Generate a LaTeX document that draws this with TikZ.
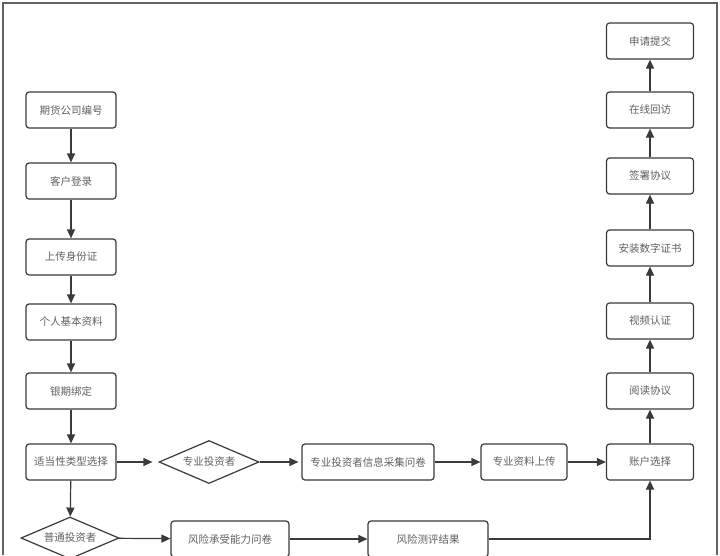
\documentclass[tikz,border=0pt]{standalone}
\usepackage{fontspec}
\newfontfamily\cjk{Noto Sans CJK SC}
\usetikzlibrary{arrows.meta,shapes.geometric}
\definecolor{edge}{HTML}{3A3A3A}
\definecolor{txt}{HTML}{606060}
\begin{document}
\begin{tikzpicture}[x=1pt,y=-1pt,
  box/.style={draw=edge,line width=1.2pt,rounded corners=3pt,fill=white,
    minimum height=36pt,inner sep=0pt,text=txt,font=\cjk\fontsize{10.5}{12}\selectfont},
  dia/.style={diamond,aspect=2.3,draw=edge,line width=1.2pt,fill=white,
    inner sep=0pt,text=txt,font=\cjk\fontsize{10.5}{12}\selectfont},
  arr/.style={draw=edge,line width=1.2pt,-{Triangle[length=9pt,width=8pt]}},
  ln/.style={draw=edge,line width=1.2pt}]
\useasboundingbox (0,0) rectangle (720,555);
\fill[white] (0,0) rectangle (720,555);
\draw[draw=edge!80,line width=2pt] (2.5,555) -- (2.5,2.5) -- (717,2.5) -- (717,555);
% left column
\node[box,minimum width=90pt] (a1) at (71,110) {期货公司编号};
\node[box,minimum width=90pt] (a2) at (71,181) {客户登录};
\node[box,minimum width=90pt] (a3) at (71,257) {上传身份证};
\node[box,minimum width=90pt] (a4) at (71,322) {个人基本资料};
\node[box,minimum width=90pt] (a5) at (71,391) {银期绑定};
\node[box,minimum width=90pt] (a6) at (71,462) {适当性类型选择};
% professional branch
\node[dia,minimum width=100pt,minimum height=43pt] (p1) at (209,462) {专业投资者};
\node[box,minimum width=132pt] (p2) at (368,462) {专业投资者信息采集问卷};
\node[box,minimum width=86pt] (p3) at (524,462) {专业资料上传};
% common branch
\node[dia,minimum width=98pt,minimum height=42pt] (c1) at (70,538) {普通投资者};
\node[box,minimum width=118pt] (c2) at (230,539) {风险承受能力问卷};
\node[box,minimum width=120pt] (c3) at (428,539) {风险测评结果};
% right column
\node[box,minimum width=87pt] (r0) at (650,462) {账户选择};
\node[box,minimum width=87pt] (r1) at (650,391) {阅读协议};
\node[box,minimum width=87pt] (r2) at (650,321) {视频认证};
\node[box,minimum width=87pt] (r3) at (650,248) {安装数字证书};
\node[box,minimum width=87pt] (r4) at (650,176) {签署协议};
\node[box,minimum width=87pt] (r5) at (650,110) {在线回访};
\node[box,minimum width=87pt] (r6) at (650,41) {申请提交};
\coordinate (bend) at (r0.south |- c3.east);
% connectors
\draw[arr] (a1) -- (a2);
\draw[arr] (a2) -- (a3);
\draw[arr] (a3) -- (a4);
\draw[arr] (a4) -- (a5);
\draw[arr] (a5) -- (a6);
\draw[arr,shorten >=6pt] (a6) -- (p1);
\draw[arr,shorten >=3pt] (p1) -- (p2);
\draw[arr] (p2) -- (p3);
\draw[arr] (p3) -- (r0);
\draw[arr] (a6) -- (c1);
\draw[arr] (c1) -- (c2);
\draw[arr] (c2) -- (c3);
\draw[arr] (c3.east) -- (bend) -- (r0.south);
\draw[arr] (r0) -- (r1);
\draw[arr] (r1) -- (r2);
\draw[arr] (r2) -- (r3);
\draw[arr] (r3) -- (r4);
\draw[arr] (r4) -- (r5);
\draw[arr] (r5) -- (r6);
\end{tikzpicture}
\end{document}
